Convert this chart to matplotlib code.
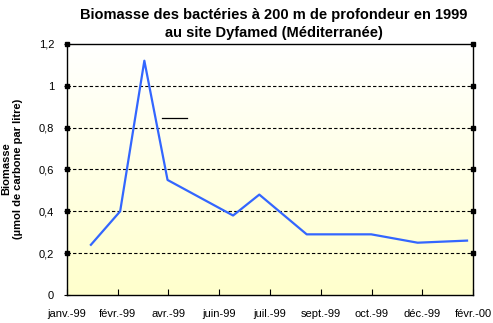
import numpy as np
import matplotlib
matplotlib.use("Agg")
import matplotlib.pyplot as plt
from matplotlib.lines import Line2D

# Data
days = [24, 53, 77, 100, 165, 191, 238, 302, 348, 397]   # days since 1 Jan 1999
biomasse = [0.24, 0.40, 1.12, 0.55, 0.38, 0.48, 0.29, 0.29, 0.25, 0.26]
tick_labels = ["janv.-99", "févr.-99", "avr.-99", "juin-99", "juil.-99",
               "sept.-99", "oct.-99", "déc.-99", "févr.-00"]
tick_step = 50.4
y_ticks = [0, 0.2, 0.4, 0.6, 0.8, 1.0, 1.2]
y_tick_labels = ["0", "0,2", "0,4", "0,6", "0,8", "1", "1,2"]

plt.rcParams['font.family'] = ['Liberation Sans', 'DejaVu Sans']

fig = plt.figure(figsize=(4.93, 3.23), dpi=100)
ax = fig.add_axes([0.1353, 0.0867, 0.8247, 0.7771])

xticks = np.arange(len(tick_labels)) * tick_step
ax.set_xlim(xticks[0], xticks[-1])
ax.set_ylim(0, 1.2)

# gradient background
grad = np.linspace(0, 1, 256).reshape(-1, 1)
top = np.array([1.0, 1.0, 1.0])
bot = np.array([1.0, 1.0, 0.80])
img = top[None, None, :] * (1 - grad[:, :, None]) + bot[None, None, :] * grad[:, :, None]
ax.imshow(img, extent=[0, 1, 0, 1], transform=ax.transAxes, aspect='auto', zorder=0)

# gridlines
for yv in y_ticks[1:-1]:
    ax.axhline(yv, color='black', lw=0.8, ls=(0, (3, 2)), zorder=1)

ax.plot(days, biomasse, color='#3366FF', lw=1.6, zorder=3)

# stray short line
ax.add_line(Line2D([0.234, 0.295], [0.704, 0.704], transform=ax.transAxes,
                   color='black', lw=0.9, zorder=3))

# gridline handles
for yv in y_ticks[1:]:
    ax.plot([xticks[0], xticks[-1]], [yv, yv], ls='none', marker='s', ms=3,
            color='black', clip_on=False, zorder=5)

for s in ax.spines.values():
    s.set_color('black')
    s.set_linewidth(1.0)

ax.set_xticks(xticks)
ax.set_xticklabels(tick_labels, fontsize=8)
ax.set_yticks(y_ticks)
ax.set_yticklabels(y_tick_labels, fontsize=8)
ax.tick_params(axis='x', direction='in', length=4, width=0.8, pad=10)
ax.tick_params(axis='y', direction='inout', length=4, width=0.8, pad=7)

fig.text(12 / 493, 1 - 169 / 323, "Biomasse\n(µmol de carbone par litre)", fontsize=8,
         fontweight='bold', rotation=90, ha='center', va='center', linespacing=1.15,
         multialignment='center')

fig.text(0.556, 0.954, "Biomasse des bactéries à 200 m de profondeur en 1999",
         ha='center', va='center', fontsize=10.5, fontweight='bold')
fig.text(0.556, 0.897, "au site Dyfamed (Méditerranée)",
         ha='center', va='center', fontsize=10.5, fontweight='bold')

fig.savefig("out.png", dpi=100)
